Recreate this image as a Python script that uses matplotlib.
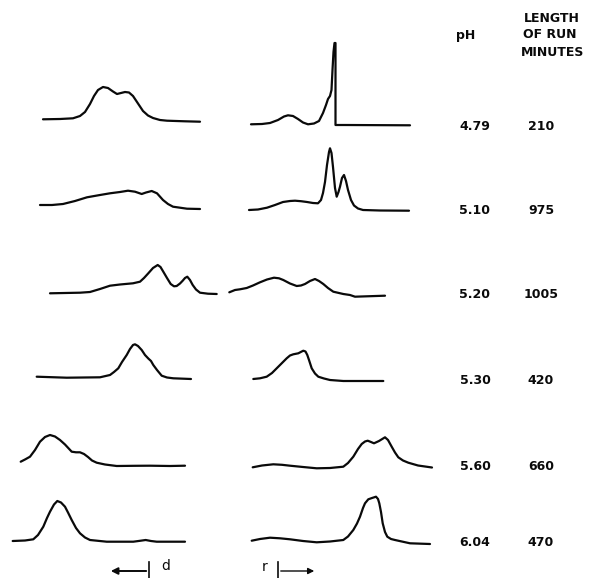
import numpy as np
import matplotlib
matplotlib.use("Agg")
import matplotlib.pyplot as plt

# ---------------- data ----------------
ph_values = ["4.79", "5.10", "5.20", "5.30", "5.60", "6.04"]
run_minutes = ["210", "975", "1005", "420", "660", "470"]

# descending-limb traces (left column): mobility position, signal height
d479_x = [43, 60, 73, 80, 85, 90, 94, 98, 103, 108, 113, 117, 121, 125, 129, 133, 137, 143, 148, 153, 160, 167, 185, 200]
d479_h = [5.7, 6, 6.7, 9, 13, 21, 29, 35, 38, 37, 33.5, 31, 32, 33, 32.5, 29, 23, 14, 9.5, 7, 5, 4.3, 3.7, 3.3]
d510_x = [40, 52, 63, 75, 87, 100, 110, 120, 128, 135, 141.7, 146, 151.7, 157, 163, 168, 173, 187, 200]
d510_h = [5, 5, 6, 9, 12.7, 15, 16.7, 18, 19.3, 18.3, 16, 17.5, 19, 16.7, 10, 6, 3.3, 1.3, 1]
d520_x = [50, 65, 80, 90, 100, 110, 120, 133, 140, 144, 148.3, 153, 157.7, 160.5, 163.3, 167, 170.7, 174, 176.7, 180, 182.7, 185, 187.3, 190, 192.7, 196, 200, 208, 216.7]
d520_h = [0.7, 1, 1.3, 2, 5, 8.3, 9.5, 10.7, 12.3, 16, 20.7, 26, 29, 27, 22.3, 16, 10, 7.7, 8, 10.5, 13.3, 16, 17.3, 14, 9, 4.5, 1.3, 0.3, 0]
d530_x = [36.7, 66.7, 100, 110, 114, 118.3, 122, 126.7, 130, 133, 135, 138, 141.7, 145, 148.3, 151, 153.3, 157, 161.7, 167, 173.3, 191]
d530_h = [3.3, 2.3, 2.7, 5, 8, 11.7, 18, 25, 31, 35, 35.7, 34, 30, 25, 21.5, 19, 15, 10, 4.3, 2.5, 1.7, 1]
d560_x = [20.7, 25, 30, 35, 40, 45, 50, 55, 60, 65, 71.7, 76, 80, 84, 88, 92, 96.7, 105, 116.7, 135, 150, 170, 185]
d560_h = [4.3, 6.5, 9.3, 16, 24.3, 29, 31, 29.5, 26, 21.5, 14.3, 13.7, 13.7, 12, 9, 5.5, 3.3, 1.5, 0, 0.2, 0.3, 0, 0.3]
d604_x = [12.7, 25, 33.3, 38, 43.3, 47, 50, 54, 57.3, 61, 65, 68, 71.7, 76, 80, 85, 90, 106.7, 133.3, 140, 145.7, 151, 156.7, 185]
d604_h = [1, 1.5, 2.7, 7, 15.3, 24, 30.3, 37.5, 41, 39.5, 35.3, 29.5, 22, 14, 8.7, 4.5, 2, 0.3, 0.3, 1.2, 2, 1, 0.3, 0.3]

# ascending-limb traces (right column)
a479_x = [251, 262, 270, 278, 284, 288, 293, 298, 303, 308, 314, 319, 323, 326, 328, 330, 331.5, 332.5, 333.5, 334.5, 335.5, 335.5, 345, 410]
a479_h = [0.7, 1, 2, 5, 8.5, 9.7, 9, 6, 2.5, 0.7, 1.5, 4, 12, 20, 26, 29, 35, 55, 73, 82, 82, 0, 0, -0.3]
a510_x = [249, 258, 267, 275, 283, 290, 295, 301, 307, 313, 318, 321, 323, 325, 327, 329, 330, 331.5, 333, 335, 336.7, 338.5, 340, 342, 344, 346, 348, 351, 354, 358, 363, 380, 409]
a510_h = [0, 0.5, 2.3, 5, 8, 9, 9.3, 8.8, 8, 7, 6.7, 10, 17, 28, 45, 58, 61.7, 57, 43, 22, 13.3, 18, 23.3, 32, 35, 29, 20, 10, 4.5, 1.5, 0, -0.5, -0.7]
a520_x = [229.3, 235, 240, 246.7, 253, 260, 267, 274, 279, 283.3, 290, 296.7, 301, 305, 310, 315, 319, 323.3, 328, 333.3, 343.3, 350, 355, 385]
a520_h = [1.7, 4, 4.7, 6, 8.5, 11.7, 14.5, 16.3, 15.7, 14, 10.5, 8, 8.5, 10, 13, 15, 13, 10, 6, 2.3, 0, -1, -2.7, -1.7]
a530_x = [253.3, 260, 266.7, 272, 276.7, 282, 286.7, 290, 293.3, 298.3, 303.3, 305.5, 307.3, 309, 311.7, 315, 318.3, 324, 330, 343.3, 383.3]
a530_h = [1, 1.7, 3.3, 7, 11.7, 17, 21.7, 24.5, 25.7, 26.7, 29.3, 28.5, 25, 20, 11.7, 6.5, 3.3, 1.5, 0, -1, -1]
a560_x = [252.7, 262, 273.3, 282, 290, 303, 316.7, 330, 343.3, 348, 353.3, 358, 361.7, 365, 367.7, 370.5, 374, 379, 385, 388, 391.7, 395, 398.3, 403, 408.3, 418, 432]
a560_h = [-1.3, 0.5, 1.7, 1.2, 0.3, -1, -2.3, -2, -0.7, 3, 9.3, 17, 22, 24.5, 25.3, 24.2, 22.7, 25, 28.7, 26, 19.3, 13.5, 8.7, 5.5, 3.3, 0.5, -1.5]
a604_x = [251.7, 260, 270, 280, 290, 303, 316.7, 330, 343.3, 348, 353.3, 357, 360, 363, 365, 368.3, 372, 376, 378, 379.3, 381, 382.7, 385, 387.3, 391, 395, 410, 430]
a604_h = [1.3, 3, 4.3, 3.7, 2.7, 1, -0.3, 0.5, 2, 5.5, 12, 18.5, 25.3, 34, 38.7, 42.7, 44, 45.3, 43, 38.7, 30, 18.7, 10, 5.3, 3, 2, -1.3, -2]

descending = [(d479_x, d479_h), (d510_x, d510_h), (d520_x, d520_h),
              (d530_x, d530_h), (d560_x, d560_h), (d604_x, d604_h)]
ascending = [(a479_x, a479_h), (a510_x, a510_h), (a520_x, a520_h),
             (a530_x, a530_h), (a560_x, a560_h), (a604_x, a604_h)]

# ---------------- layout ----------------
W, H = 597, 578
row_base = [125, 210, 294, 380, 466, 542]
ph_x, min_x = 475, 541
lw = 1.6
ink = "#0a0a0a"

fig = plt.figure(figsize=(W / 100, H / 100), dpi=100)
ax = fig.add_axes([0, 0, 1, 1])
ax.set_xlim(0, W)
ax.set_ylim(H, 0)
ax.axis("off")

for base, (x, h) in zip(row_base, descending):
    ax.plot(x, base - np.asarray(h), color=ink, lw=lw, solid_capstyle="round", solid_joinstyle="round")
for base, (x, h) in zip(row_base, ascending):
    ax.plot(x, base - np.asarray(h), color=ink, lw=lw, solid_capstyle="round", solid_joinstyle="round")

txt = dict(color=ink, fontfamily="DejaVu Sans", fontsize=9, fontweight="bold",
           ha="center", va="center")
ax.text(466, 36, "pH", **txt)
ax.text(552, 19, "LENGTH", **txt)
ax.text(550, 35, "OF RUN", **txt)
ax.text(553, 52, "MINUTES", **txt)
for base, p, m in zip(row_base, ph_values, run_minutes):
    ax.text(ph_x, base + 1, p, **txt)
    ax.text(min_x, base + 1, m, **txt)

# direction markers
ay = 571
ax.annotate("", xy=(108, ay), xytext=(149, ay),
            arrowprops=dict(arrowstyle="-|>", color=ink, lw=1.4, mutation_scale=10))
ax.plot([149, 149], [562, 578], color=ink, lw=1.2)
ax.text(166, 566, "d", color=ink, fontsize=10, ha="center", va="center")
ax.annotate("", xy=(317, ay), xytext=(278, ay),
            arrowprops=dict(arrowstyle="-|>", color=ink, lw=1.0, mutation_scale=9))
ax.plot([278, 278], [562, 578], color=ink, lw=1.2)
ax.text(265, 567, "r", color=ink, fontsize=10, ha="center", va="center")

fig.savefig("out.png", dpi=100, facecolor="white")
